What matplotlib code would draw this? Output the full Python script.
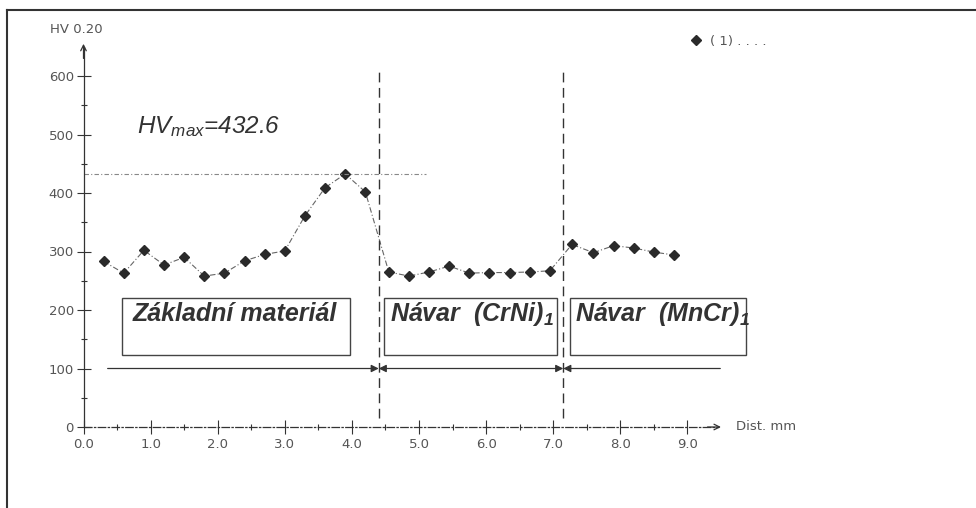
"""Microhardness profile across base material and two weld layers."""
import matplotlib
matplotlib.use("Agg")
import matplotlib.pyplot as plt
from matplotlib.patches import Rectangle
from matplotlib.lines import Line2D

plt.rcParams["font.family"] = ["Liberation Sans", "DejaVu Sans"]
plt.rcParams["mathtext.fontset"] = "custom"
plt.rcParams["mathtext.rm"] = "Liberation Sans"
plt.rcParams["mathtext.it"] = "Liberation Sans:italic"
plt.rcParams["mathtext.bf"] = "Liberation Sans:bold:italic"

# measured hardness profile (distance in mm, HV 0.2)
dist = [0.3, 0.6, 0.9, 1.2, 1.5, 1.8, 2.1, 2.4, 2.7, 3.0, 3.3, 3.6, 3.9, 4.2,
        4.55, 4.85, 5.15, 5.45, 5.75, 6.05, 6.35, 6.65, 6.95,
        7.28, 7.6, 7.9, 8.2, 8.5, 8.8]
hv = [283, 263, 302, 277, 290, 258, 263, 284, 295, 301, 361, 409, 432.6, 402,
      265, 258, 265, 275, 263, 264, 264, 265, 267,
      312, 298, 310, 306, 299, 294]

hv_max = 432.6
boundaries = [4.4, 7.15]
zone_labels = ["Základní materiál", r"Návar  (CrNi)$_\mathbf{1}$", r"Návar  (MnCr)$_\mathbf{1}$"]
zone_boxes = [(0.58, 3.97), (4.48, 7.06), (7.25, 9.88)]
label_offsets = [0.15, 0.09, 0.08]
xtick_vals = [0, 1, 2, 3, 4, 5, 6, 7, 8, 9]
xtick_labels = ["0.0", "1.0", "2.0", "3.0", "4.0", "5.0", "6.0", "7.0", "8.0", "9.0"]
ytick_vals = [0, 100, 200, 300, 400, 500, 600]

INK = "#333333"
GREY = "#666666"
SMALL = dict(family="DejaVu Sans", size=9.5, color="#555555")

fig = plt.figure(figsize=(9.76, 5.08), dpi=100)
ax = fig.add_axes([0, 0, 1, 1])
# pixel mapping of the scanned chart: x=0 at 83.5px, 67.1 px/mm; y=0 at 427px, 0.585 px/HV
ax.set_xlim(-83.5 / 67.1, (976 - 83.5) / 67.1)
ax.set_ylim((427 - 508) / 0.585, 427 / 0.585)
ax.patch.set_alpha(0)

for side in ("top", "right"):
    ax.spines[side].set_visible(False)
ax.spines["left"].set_position(("data", 0))
ax.spines["bottom"].set_position(("data", 0))
ax.spines["left"].set_bounds(0, 650)
ax.spines["bottom"].set_bounds(0, 9.45)
for side in ("left", "bottom"):
    ax.spines[side].set_color(INK)
    ax.spines[side].set_linewidth(0.9)
ax.spines["bottom"].set_linestyle((0, (6, 2, 1, 2)))

ax.set_xticks(xtick_vals, xtick_labels)
ax.set_xticks([v + 0.5 for v in xtick_vals[:-1]], minor=True)
ax.set_yticks(ytick_vals, [str(v) for v in ytick_vals])
ax.set_yticks([v + 50 for v in ytick_vals[:-1]], minor=True)
ax.tick_params(which="major", direction="inout", length=10, width=0.8, color=INK,
               labelsize=9.5, labelcolor="#555555", pad=2)
ax.tick_params(which="minor", direction="inout", length=4.5, width=0.8, color=INK)
ax.tick_params(axis="x", which="major", pad=3)
for lbl in ax.get_xticklabels() + ax.get_yticklabels():
    lbl.set_family("DejaVu Sans")

# axis arrow tips
ax.annotate("", xy=(9.5, 0), xytext=(9.3, 0),
            arrowprops=dict(arrowstyle="->", color=INK, lw=0.9, shrinkA=0, shrinkB=0))
ax.annotate("", xy=(0, 655), xytext=(0, 630),
            arrowprops=dict(arrowstyle="->", color=INK, lw=0.9, shrinkA=0, shrinkB=0))
ax.text(9.72, 0, "Dist. mm", va="center", ha="left", **SMALL)
ax.text(-0.5, 680, "HV 0.20", va="center", ha="left", **SMALL)

# data
ax.plot(dist, hv, color=GREY, lw=0.8, linestyle=(0, (5, 2, 1, 2)))
ax.plot(dist, hv, linestyle="none", marker="D", ms=5.2, color="#2a2a2a",
        label="( 1) . . . .")

# maximum hardness reference
ax.plot([0, 5.1], [hv_max, hv_max], color="#888888", lw=0.8, linestyle=(0, (4, 2, 1, 2)))
ax.text(0.8, 513, r"HV$_{\mathit{max}}$=" + f"{hv_max}", fontsize=17.5, style="italic",
        color=INK, va="center", ha="left")

# zone boundaries
for b in boundaries:
    ax.plot([b, b], [15, 614], color=INK, lw=1.0, linestyle=(0, (7, 4)))

# zone labels in boxes
for (x0, x1), label, off in zip(zone_boxes, zone_labels, label_offsets):
    ax.add_patch(Rectangle((x0, 123), x1 - x0, 97, fill=False, edgecolor="#444444", lw=1.0))
    ax.text(x0 + off, 194, label, fontsize=18, fontweight="bold", style="italic",
            color=INK, va="center", ha="left")

# zone extent arrows
arrow_kw = dict(color=INK, lw=0.9, shrinkA=0, shrinkB=0, mutation_scale=11)
ax.annotate("", xy=(boundaries[0], 100), xytext=(0.36, 100),
            arrowprops=dict(arrowstyle="-|>", **arrow_kw))
ax.annotate("", xy=(boundaries[1], 100), xytext=(boundaries[0], 100),
            arrowprops=dict(arrowstyle="<|-|>", **arrow_kw))
ax.annotate("", xy=(boundaries[1], 100), xytext=(9.49, 100),
            arrowprops=dict(arrowstyle="-|>", **arrow_kw))

ax.legend(loc="upper left", bbox_to_anchor=(0.7, 0.945), frameon=False,
          prop=dict(family="DejaVu Sans", size=9.5),
          handlelength=1.0, handletextpad=0.5, borderpad=0, labelcolor="#555555")

# outer frame of the scanned figure
fig.add_artist(Line2D([7 / 976, 7 / 976], [0, 1 - 10 / 508], color=INK, lw=1.5,
                      transform=fig.transFigure))
fig.add_artist(Line2D([7 / 976, 1], [1 - 10 / 508, 1 - 10 / 508], color=INK, lw=1.5,
                      transform=fig.transFigure))

fig.savefig("out.png", dpi=100)
